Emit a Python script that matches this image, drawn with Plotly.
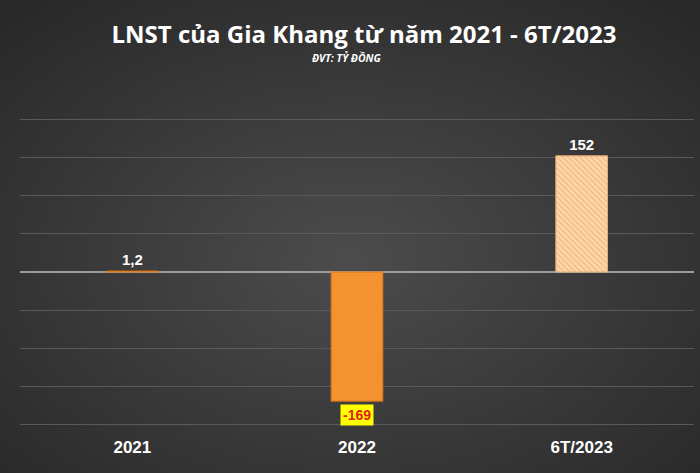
import plotly.graph_objects as go

categories = ["2021", "2022", "6T/2023"]
values = [1.2, -169, 152]
value_labels = ["1,2", "-169", "152"]

# nen xam toi dang radial gradient (anh svg noi tuyen)
bg_svg = (
    "data:image/svg+xml;utf8,"
    "<svg xmlns='http://www.w3.org/2000/svg' width='700' height='473' preserveAspectRatio='none'>"
    "<defs><radialGradient id='g' cx='50%' cy='55%' r='70%'>"
    "<stop offset='0%' stop-color='%234c4c4c'/>"
    "<stop offset='100%' stop-color='%23292929'/>"
    "</radialGradient></defs>"
    "<rect width='700' height='473' fill='url(%23g)'/></svg>"
)

label_font = dict(family="Liberation Sans", size=15, color="white", weight="bold")

fig = go.Figure()

# 2021, 2022: cam dac
fig.add_trace(
    go.Bar(
        x=categories[:2],
        y=values[:2],
        text=[value_labels[0], ""],
        textposition="outside",
        cliponaxis=False,
        textfont=label_font,
        marker=dict(color="#f3922f", line=dict(color="#d8761e", width=1)),
    )
)
# 6T/2023: soc cheo
fig.add_trace(
    go.Bar(
        x=categories[2:],
        y=values[2:],
        text=value_labels[2:],
        textposition="outside",
        cliponaxis=False,
        textfont=label_font,
        marker=dict(
            color="#f2b577",
            line=dict(color="#e8ac72", width=1),
            pattern=dict(shape="\\", bgcolor="#fdd9ae", fgcolor="#eba263", size=4, solidity=0.45),
        ),
    )
)

# nhan -169 nen vang chu do (x la chi so cot tren truc category)
fig.add_annotation(
    x=categories.index("2022"),
    y=values[1],
    yanchor="top",
    yshift=-3,
    text="<b>" + value_labels[1] + "</b>",
    showarrow=False,
    bgcolor="#ffff00",
    borderpad=2,
    font=dict(family="Liberation Sans", size=14, color="#e0201c"),
)
fig.add_annotation(
    text="<b><i>ĐVT: TỶ ĐỒNG</i></b>",
    xref="paper",
    yref="paper",
    x=0.485,
    y=1 + 60 / 306,
    xanchor="center",
    yanchor="middle",
    showarrow=False,
    font=dict(family="Open Sans", size=10.5, color="white"),
)

fig.update_layout(
    width=700,
    height=473,
    margin=dict(l=20, r=6, t=118, b=47),
    paper_bgcolor="#383838",
    plot_bgcolor="rgba(0,0,0,0)",
    images=[
        dict(
            source=bg_svg,
            xref="paper",
            yref="paper",
            x=-20 / 674,
            y=1 + 118 / 308,
            sizex=700 / 674,
            sizey=473 / 308,
            sizing="stretch",
            layer="below",
            xanchor="left",
            yanchor="top",
        )
    ],
    title=dict(
        text="<b>LNST của Gia Khang từ năm 2021 - 6T/2023</b>",
        x=0.52,
        xanchor="center",
        y=0.926,
        yanchor="middle",
        font=dict(family="Open Sans", size=24, color="white"),
    ),
    barmode="overlay",
    bargap=0.77,
    showlegend=False,
    xaxis=dict(
        type="category",
        categoryorder="array",
        categoryarray=categories,
        range=[-0.5, len(categories) - 0.5],
        showgrid=False,
        showline=False,
        zeroline=False,
        ticks="outside",
        ticklen=6,
        tickcolor="rgba(0,0,0,0)",
        tickfont=dict(family="Liberation Sans", size=17, color="white", weight="bold"),
    ),
    yaxis=dict(
        range=[-201.5, 201.5],
        tickvals=[-200, -150, -100, -50, 0, 50, 100, 150, 200],
        showticklabels=False,
        showgrid=True,
        gridcolor="#5a5a5a",
        gridwidth=1,
        zeroline=True,
        zerolinecolor="#9c9c9c",
        zerolinewidth=1.5,
    ),
)

fig.write_html(
    "out.html",
    config={"displayModeBar": False},
    post_script="document.body.style.margin='0px';",
)
